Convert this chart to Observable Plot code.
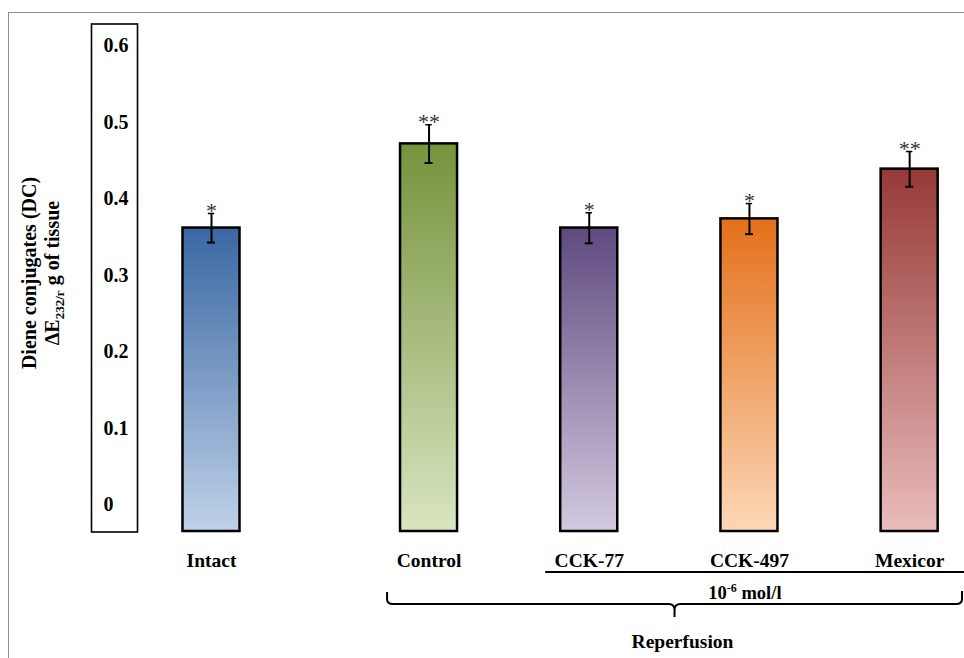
<!DOCTYPE html>
<html>
<head>
<meta charset="utf-8">
<script src="https://cdn.jsdelivr.net/npm/d3@7"></script>
<script src="https://cdn.jsdelivr.net/npm/@observablehq/plot@0.6"></script>
<style>
  html, body { margin: 0; padding: 0; background: #fff; }
  #wrap { position: relative; width: 964px; height: 658px; overflow: hidden; }
  #border { position: absolute; left: 7.5px; top: 12px; width: 1000px; height: 700px;
            border-top: 1.5px solid #8c8c8c; border-left: 1.5px solid #8c8c8c; }
  #chart { position: absolute; left: 0; top: 0; }
</style>
</head>
<body>
<div id="wrap"><div id="border"></div><div id="chart"></div></div>
<script>
// ---- data ----
const categories = ["Intact", "Control", "CCK-77", "CCK-497", "Mexicor"];
const values = [0.362, 0.472, 0.362, 0.374, 0.439];
const errors = [0.019, 0.025, 0.020, 0.020, 0.023];
const stars = ["*", "**", "*", "*", "**"];
const yTicks = [0, 0.1, 0.2, 0.3, 0.4, 0.5, 0.6];
const yTickLabels = ["0", "0.1", "0.2", "0.3", "0.4", "0.5", "0.6"];

// ---- styles ----
const gradients = [
  ["#3a67a3", "#bfd1e8"],
  ["#76933c", "#d9e5c0"],
  ["#5f4a7f", "#d3c9e0"],
  ["#e3701a", "#fdd7b7"],
  ["#963a36", "#e9bcbc"]
];
const FONT = "'Liberation Serif', 'Times New Roman', serif";

// ---- layout ----
const W = 964, H = 658;
const X0 = 211, STEP = 160.2, GAP = 0.358;   // Intact stands apart from the reperfusion group
const HALF = 0.178;                           // half bar width in slot units
const yBase = -0.0346, yTop = 0.628;

const data = categories.map((c, i) => ({
  i, cat: c, value: values[i], err: errors[i], star: stars[i],
  pos: i === 0 ? 0 : i + GAP
}));
const ticks = yTicks.map((v, i) => ({v, label: yTickLabels[i]}));
const capHalf = 4 / STEP;

const plot = Plot.plot({
  width: W, height: H,
  marginTop: 24, marginBottom: 127, marginLeft: 0, marginRight: 0,
  x: {domain: [-X0 / STEP, (W - X0) / STEP], axis: null},
  y: {domain: [yBase, yTop], axis: null},
  color: {type: "identity"},
  style: {fontFamily: FONT, background: "transparent", overflow: "visible"},
  marks: [
    Plot.rect(data, {
      x1: d => d.pos - HALF, x2: d => d.pos + HALF,
      y1: () => yBase, y2: "value",
      fill: d => `url(#grad${d.i})`, stroke: "#000", strokeWidth: 2.5
    }),
    Plot.ruleX(data, {x: "pos", y1: d => d.value - d.err, y2: d => d.value + d.err, stroke: "#000", strokeWidth: 2}),
    Plot.ruleY(data, {y: d => d.value - d.err, x1: d => d.pos - capHalf, x2: d => d.pos + capHalf, stroke: "#000", strokeWidth: 2}),
    Plot.ruleY(data, {y: d => d.value + d.err, x1: d => d.pos - capHalf * 0.8, x2: d => d.pos + capHalf * 0.8, stroke: "#000", strokeWidth: 1.5}),
    Plot.text(data, {x: "pos", y: d => d.value + d.err, text: "star", dy: -3, fontSize: 22, fill: "#333"}),
    Plot.text(data, {x: "pos", y: () => yBase, text: "cat", dy: 29, fontSize: 19.5, fontWeight: "bold"}),
    Plot.text(ticks, {y: "v", text: "label", frameAnchor: "left", dx: 103, textAnchor: "start", fontSize: 20, fontWeight: "bold"})
  ]
});

const svg = d3.select(plot);
const defs = svg.insert("defs", ":first-child");
gradients.forEach(([top, bottom], i) => {
  const g = defs.append("linearGradient").attr("id", "grad" + i)
    .attr("x1", 0).attr("y1", 0).attr("x2", 0).attr("y2", 1);
  g.append("stop").attr("offset", "0%").attr("stop-color", top);
  g.append("stop").attr("offset", "100%").attr("stop-color", bottom);
});

const px = u => X0 + u * STEP;
const ann = svg.append("g").attr("font-family", FONT).attr("font-weight", "bold");

// y-axis box
ann.append("rect").attr("x", 91.5).attr("y", 24).attr("width", 46).attr("height", 508)
  .attr("fill", "none").attr("stroke", "#000").attr("stroke-width", 1.6);

// y label
ann.append("text").attr("transform", "translate(36,273) rotate(-90)")
  .attr("text-anchor", "middle").attr("font-size", 20).text("Diene conjugates (DC)");
const l2 = ann.append("text").attr("transform", "translate(59,273) rotate(-90)")
  .attr("text-anchor", "middle").attr("font-size", 20);
l2.append("tspan").text("ΔE");
l2.append("tspan").attr("font-size", 13).attr("dy", 5).text("232/г");
l2.append("tspan").attr("dy", -5).text(" g of tissue");

// concentration underline and label
const g2 = data[2].pos;
ann.append("line").attr("x1", px(g2 - 0.272)).attr("x2", W + 5).attr("y1", 572).attr("y2", 572)
  .attr("stroke", "#000").attr("stroke-width", 2);
const conc = ann.append("text").attr("x", px(data[3].pos) - 4).attr("y", 598.5)
  .attr("text-anchor", "middle").attr("font-size", 18.5);
conc.append("tspan").text("10");
conc.append("tspan").attr("font-size", 12).attr("dy", -7).text("-6");
conc.append("tspan").attr("dy", 7).text(" mol/l");

// reperfusion brace
const bl = px(data[1].pos - 0.259), br = px(data[4].pos + 0.33), bm = (bl + br) / 2;
ann.append("path")
  .attr("d", `M${bl},592 V599 Q${bl},604 ${bl + 6},604 H${bm - 6} Q${bm},604 ${bm},610 V617 M${bm},610 Q${bm},604 ${bm + 6},604 H${br - 6} Q${br},604 ${br},599 V591`)
  .attr("fill", "none").attr("stroke", "#000").attr("stroke-width", 2);
ann.append("text").attr("x", bm + 8).attr("y", 648).attr("text-anchor", "middle")
  .attr("font-size", 19.5).text("Reperfusion");

document.getElementById("chart").appendChild(plot);
</script>
</body>
</html>
